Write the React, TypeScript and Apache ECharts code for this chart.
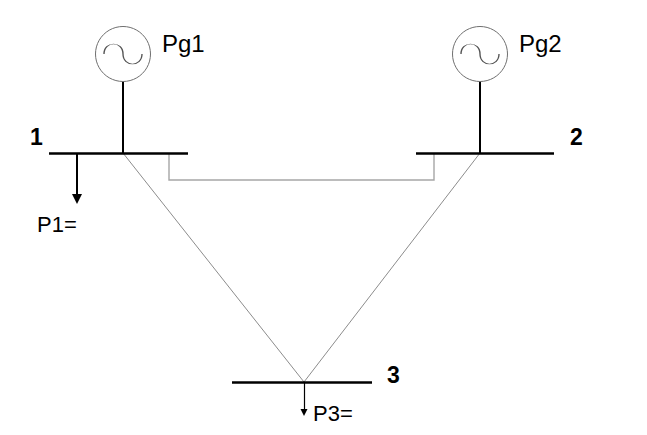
import React, { useEffect, useRef } from 'react';
import * as echarts from 'echarts';

const W = 647;
const H = 435;

// bus bars: [x start, x end, y]
const busNames = ['1', '2', '3'];
const busBars = [
  [49, 188, 153],
  [416, 554, 153],
  [232, 372, 382],
];
const busLabelAt = [
  [30, 136.5],
  [570, 136.5],
  [387, 374.5],
];

// generators: circle centre, stem goes down to the bus
const genNames = ['Pg1', 'Pg2'];
const genCenters = [
  [123, 54],
  [480, 54],
];
const genBusY = [153, 153];
const genLabelAt = [
  [162, 43.5],
  [519, 43.5],
];

// transmission lines between the buses
const branchNames = ['1-2', '1-3', '2-3'];
const branchRoutes = [
  [[169, 153], [169, 180], [434, 180], [434, 153]],
  [[123, 153], [304, 382]],
  [[480, 153], [304, 382]],
];

// loads
const loadNames = ['P1=', 'P3='];
const loadArrows = [
  [[77, 153], [77, 199]],
  [[304, 382], [304, 412.5]],
];
const loadLabelAt = [
  [37, 224],
  [313, 413],
];

const FONT = '"Liberation Sans", Arial, Helvetica, sans-serif';
const GEN_R = 27.5;

const OneLine: React.FC = () => {
  const chartRef = useRef<HTMLDivElement | null>(null);

  useEffect(() => {
    if (!chartRef.current) return;
    const chart = echarts.init(chartRef.current, undefined, { renderer: 'svg' });

    const textSeries = (name: string, names: string[], at: number[][], size: number, weight: string) => ({
      name,
      type: 'scatter',
      silent: true,
      symbolSize: 0,
      z: 10,
      itemStyle: { opacity: 1 },
      data: names.map((n, i) => ({ name: n, value: at[i] })),
      label: {
        show: true,
        position: 'right',
        distance: 0,
        formatter: '{b}',
        fontFamily: FONT,
        fontSize: size,
        fontWeight: weight,
        color: '#000',
        opacity: 1,
      },
    });

    const option = {
      animation: false,
      backgroundColor: '#fff',
      grid: { left: 0, right: 0, top: 0, bottom: 0 },
      xAxis: { type: 'value', min: 0, max: W, show: false },
      yAxis: { type: 'value', min: 0, max: H, inverse: true, show: false },
      series: [
        {
          name: 'branches',
          type: 'lines',
          coordinateSystem: 'cartesian2d',
          polyline: true,
          silent: true,
          z: 1,
          data: branchRoutes.map((r, i) => ({
            name: branchNames[i],
            coords: r,
            lineStyle:
              i === 0
                ? { color: '#a6a6a6', width: 1.4, opacity: 1 }
                : { color: '#8c8c8c', width: 1, opacity: 1 },
          })),
        },
        {
          name: 'stems',
          type: 'lines',
          coordinateSystem: 'cartesian2d',
          silent: true,
          z: 2,
          lineStyle: { color: '#000', width: 2, opacity: 1 },
          data: genCenters.map((c, i) => ({ coords: [[c[0], c[1] + GEN_R], [c[0], genBusY[i]]] })),
        },
        {
          name: 'buses',
          type: 'lines',
          coordinateSystem: 'cartesian2d',
          silent: true,
          z: 3,
          lineStyle: { color: '#000', width: 2.6, opacity: 1 },
          data: busBars.map((b, i) => ({ name: busNames[i], coords: [[b[0], b[2]], [b[1], b[2]]] })),
        },
        {
          name: 'load1',
          type: 'lines',
          coordinateSystem: 'cartesian2d',
          silent: true,
          z: 4,
          symbol: ['none', 'triangle'],
          symbolSize: 10,
          lineStyle: { color: '#000', width: 2, opacity: 1 },
          data: [{ name: loadNames[0], coords: loadArrows[0] }],
        },
        {
          name: 'load3',
          type: 'lines',
          coordinateSystem: 'cartesian2d',
          silent: true,
          z: 4,
          symbol: ['none', 'triangle'],
          symbolSize: 7,
          lineStyle: { color: '#000', width: 1.2, opacity: 1 },
          data: [{ name: loadNames[1], coords: loadArrows[1] }],
        },
        {
          name: 'generators',
          type: 'scatter',
          silent: true,
          z: 5,
          symbol: 'circle',
          symbolSize: GEN_R * 2,
          itemStyle: { color: '#fff', borderColor: '#6e6e6e', borderWidth: 1, opacity: 1 },
          data: genCenters.map((c, i) => ({ name: genNames[i], value: c })),
        },
        {
          name: 'sine',
          type: 'scatter',
          silent: true,
          z: 6,
          symbol: 'path://M0,10 C0,-3.3 19,-3.3 19,10 C19,23.3 38,23.3 38,10',
          symbolKeepAspect: false,
          symbolSize: [38, 20],
          itemStyle: { color: 'rgba(0,0,0,0)', borderColor: '#555', borderWidth: 1, opacity: 1 },
          data: genCenters.map((c, i) => ({ name: genNames[i], value: c })),
        },
        textSeries('genLabels', genNames, genLabelAt, 24, 'normal'),
        textSeries('busLabels', busNames, busLabelAt, 23, 'bold'),
        textSeries('loadLabels', loadNames, loadLabelAt, 22, 'normal'),
      ],
    };

    chart.setOption(option as any);
    return () => {
      chart.dispose();
    };
  }, []);

  return (
    <div
      ref={chartRef}
      style={{ position: 'fixed', left: 0, top: 0, width: W + 'px', height: H + 'px', background: '#fff' }}
    />
  );
};

export default function App() {
  return <OneLine />;
}
